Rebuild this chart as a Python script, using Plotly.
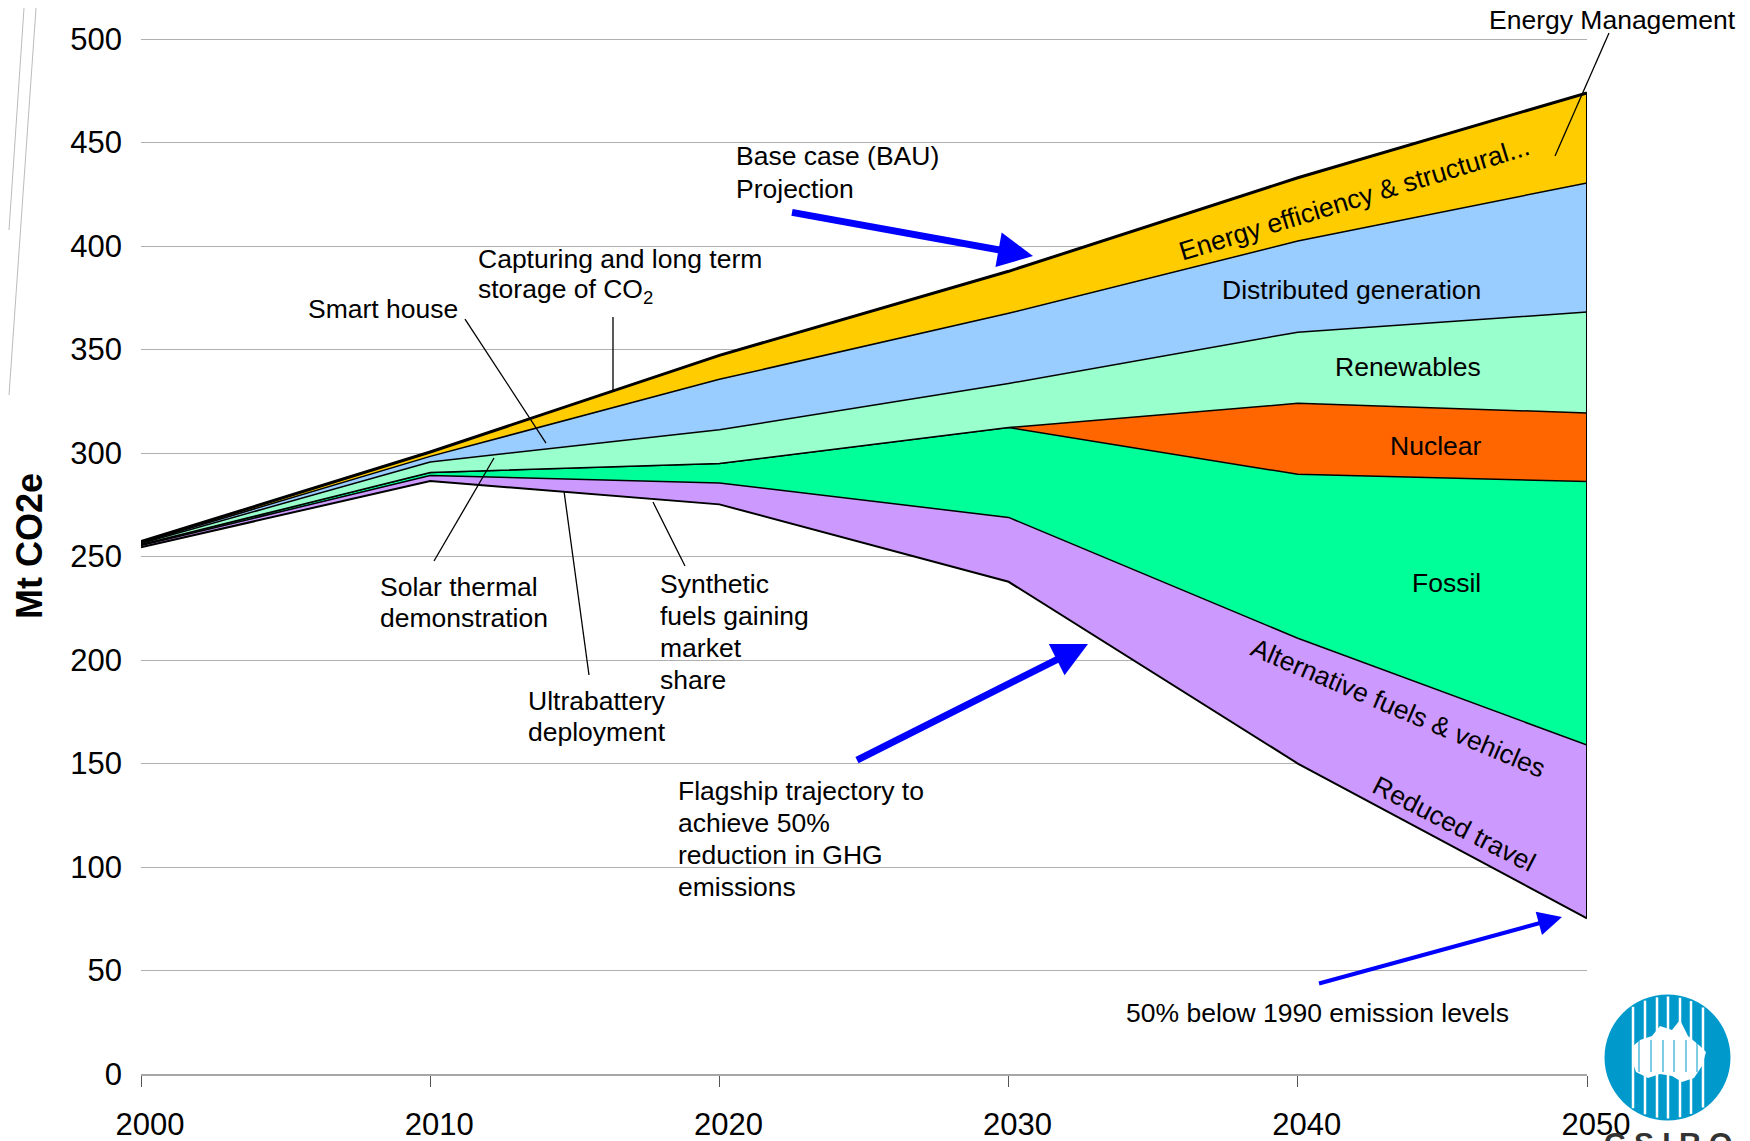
import plotly.graph_objects as go
import math

# ---------------- data ----------------
years = [2000, 2010, 2020, 2030, 2040, 2050]
flagship_trajectory = [254.5, 286.5, 275.2, 237.8, 150.0, 75.2]      # bottom of stack
alt_fuels_travel_top = [255.3, 289.2, 285.5, 268.9, 210.5, 158.9]    # purple band top
fossil_top = [255.8, 290.6, 294.9, 312.3, 289.7, 286.2]
nuclear_top = [255.8, 290.6, 294.9, 312.3, 324.0, 319.4]
renewables_top = [256.3, 295.7, 311.2, 333.6, 358.4, 368.1]
distributed_top = [256.7, 298.4, 335.6, 367.5, 402.4, 430.5]
bau_projection = [257.2, 300.5, 347.2, 387.8, 433.0, 474.0]        # energy efficiency top

y_ticks = [0, 50, 100, 150, 200, 250, 300, 350, 400, 450, 500]
x_ticks = [2000, 2010, 2020, 2030, 2040, 2050]

layers = [
    ("Alternative fuels & vehicles / Reduced travel", alt_fuels_travel_top, "#CC99FF"),
    ("Fossil", fossil_top, "#00FF99"),
    ("Nuclear", nuclear_top, "#FF6600"),
    ("Renewables", renewables_top, "#99FFCC"),
    ("Distributed generation", distributed_top, "#99CCFF"),
    ("Energy efficiency & structural", bau_projection, "#FFCC00"),
]

FONT = "Liberation Sans, Arial, sans-serif"
FS = 26.5
PAGE_W, PAGE_H = 1750, 1141
OFF = 8                      # default body margin of the html page
W, H = PAGE_W - OFF, PAGE_H - OFF
YMAX = 501
# plot area in page pixels
L, R, B = 141, 1587, 1074
T = B - (B - 39) / 500 * YMAX


def px(x):
    return (x - L) / (R - L)


def py(y):
    return (B - y) / (B - T)


fig = go.Figure()
fig.add_trace(go.Scatter(x=years, y=flagship_trajectory, mode="lines",
                         line=dict(color="black", width=2), showlegend=False,
                         hoverinfo="skip"))
for i, (name, vals, col) in enumerate(layers):
    top = i == len(layers) - 1
    fig.add_trace(go.Scatter(x=years, y=vals, mode="lines", fill="tonexty",
                             fillcolor=col, name=name,
                             line=dict(color="black", width=3 if top else 1.5),
                             showlegend=False))
# right-hand edge of the stack at 2050
fig.add_trace(go.Scatter(x=[years[-1], years[-1]],
                         y=[flagship_trajectory[-1], bau_projection[-1]],
                         mode="lines", line=dict(color="black", width=2),
                         showlegend=False, hoverinfo="skip"))

ann = []
shapes = []


def text(x, y, s, size=FS, xanchor="left", angle=0, color="black"):
    ann.append(dict(x=px(x), y=py(y), xref="paper", yref="paper", text=s,
                    showarrow=False, xanchor=xanchor, yanchor="middle",
                    align="left", textangle=angle,
                    font=dict(family=FONT, size=size, color=color)))


def block(x, y0, lines, step=32, xanchor="left"):
    for k, s in enumerate(lines):
        text(x, y0 + k * step, s, xanchor=xanchor)


def pline(x0, y0, x1, y1, color="black", width=1.3):
    shapes.append(dict(type="line", xref="paper", yref="paper",
                       x0=px(x0), y0=py(y0), x1=px(x1), y1=py(y1),
                       line=dict(color=color, width=width), layer="above"))


def arrow(tx, ty, hx, hy, width=6, size=1.0):
    ann.append(dict(x=px(hx), y=py(hy), xref="paper", yref="paper", text=" ",
                    showarrow=True, ax=tx - hx, ay=ty - hy, axref="pixel",
                    ayref="pixel", arrowhead=2, arrowsize=size,
                    arrowwidth=width, arrowcolor="#0000FF", standoff=0,
                    font=dict(size=2)))


# outer labels
text(1487, 20, "Energy Management")
pline(1609, 33, 1555, 156)
block(734, 156, ["Base case (BAU)", "Projection"], step=33)
arrow(790, 212, 1033, 256, width=7, size=1.0)
block(476, 259, ["Capturing and long term", "storage of CO<sub>2</sub>"])
pline(613, 317, 613, 391)
text(460, 309, "Smart house", xanchor="right")
pline(465, 319, 546, 443)
block(378, 587, ["Solar thermal", "demonstration"], step=31)
pline(434, 561, 494, 458)
block(526, 701, ["Ultrabattery", "deployment"], step=31)
pline(589, 675, 564, 491)
block(658, 584, ["Synthetic", "fuels gaining", "market", "share"], step=32)
pline(685, 566, 653, 502)
block(676, 791, ["Flagship trajectory to", "achieve 50%", "reduction in GHG",
                 "emissions"], step=32)
arrow(855, 761, 1088, 644, width=7, size=1.0)
text(1124, 1013, "50% below 1990 emission levels")
arrow(1317, 984, 1562, 917, width=4, size=1.2)

# labels inside the bands
text(1354, 199, "Energy efficiency &amp; structural...", xanchor="center", angle=-17)
text(1351, 290, "Distributed generation", xanchor="center")
text(1408, 367, "Renewables", xanchor="center")
text(1435, 446, "Nuclear", xanchor="center")
text(1446, 583, "Fossil", xanchor="center")
text(1398, 708, "Alternative fuels &amp; vehicles", xanchor="center", angle=23)
text(1454, 824, "Reduced travel", xanchor="center", angle=27)

# y-axis title
ann.append(dict(x=px(29), y=py(546), xref="paper", yref="paper",
                text="<b>Mt CO2e</b>", showarrow=False, textangle=-90,
                xanchor="center", yanchor="middle",
                font=dict(family=FONT, size=36, color="black")))

# decorative slide border lines (top-left)
for (x0, y0, x1, y1) in [(36, 8, 9, 395), (24, 8, 9, 230)]:
    pline(x0, y0, x1, y1, color="#BBBBBB", width=1)

# CSIRO logo
cx, cy, rr = 1667.5, 1057.5, 63
shapes.append(dict(type="circle", xref="paper", yref="paper",
                   x0=px(cx - rr), x1=px(cx + rr), y0=py(cy + rr), y1=py(cy - rr),
                   fillcolor="#0099CC", line=dict(width=0), layer="above"))
aus = [(1632, 1047), (1640, 1040), (1652, 1036), (1660, 1026), (1672, 1030),
       (1680, 1020), (1688, 1036), (1700, 1046), (1706, 1052), (1702, 1066),
       (1694, 1078), (1682, 1082), (1672, 1076), (1660, 1074), (1648, 1078),
       (1636, 1072), (1632, 1060)]
path = "M " + " L ".join("{} {}".format(px(a), py(b)) for a, b in aus) + " Z"
shapes.append(dict(type="path", xref="paper", yref="paper", layer="above",
                   path=path, fillcolor="white", line=dict(width=0)))
for sx in [1633, 1645, 1657, 1668, 1680, 1691, 1703]:
    h = math.sqrt(max(rr ** 2 - (sx - cx) ** 2, 0)) - 2
    pline(sx, cy - h, sx, cy + h, color="white", width=2.5)
for sx in [1639, 1651, 1663, 1674, 1686, 1697]:
    pline(sx, 1040, sx, 1072, color="#0099CC", width=1)
ann.append(dict(x=px(1668), y=py(1143), xref="paper", yref="paper",
                text="<b>C S I R O</b>", showarrow=False, xanchor="center",
                yanchor="middle", font=dict(family=FONT, size=30, color="#333333")))

fig.update_layout(
    width=W, height=H, autosize=False,
    margin=dict(l=L - OFF, r=W - (R - OFF), t=T - OFF, b=H - (B - OFF), pad=0),
    paper_bgcolor="white", plot_bgcolor="white",
    font=dict(family=FONT, color="black"),
    annotations=ann, shapes=shapes, showlegend=False,
    xaxis=dict(range=[2000, 2050], tickvals=x_ticks, ticktext=[str(v) for v in x_ticks],
               showgrid=False, zeroline=False, showline=True, linecolor="#A6A6A6",
               linewidth=1.5, ticks="outside", ticklen=11, tickcolor="#555555",
               tickwidth=1, ticklabelstandoff=11, ticklabelshift=9, automargin=False,
               tickfont=dict(family=FONT, size=31, color="black")),
    yaxis=dict(range=[0, YMAX], tickvals=y_ticks, showgrid=True, gridcolor="#B0B0B0",
               gridwidth=1.2, zeroline=False, showline=False, ticks="",
               ticklabelstandoff=18, automargin=False,
               tickfont=dict(family=FONT, size=31, color="black")),
)

fig.write_html("out.html")
